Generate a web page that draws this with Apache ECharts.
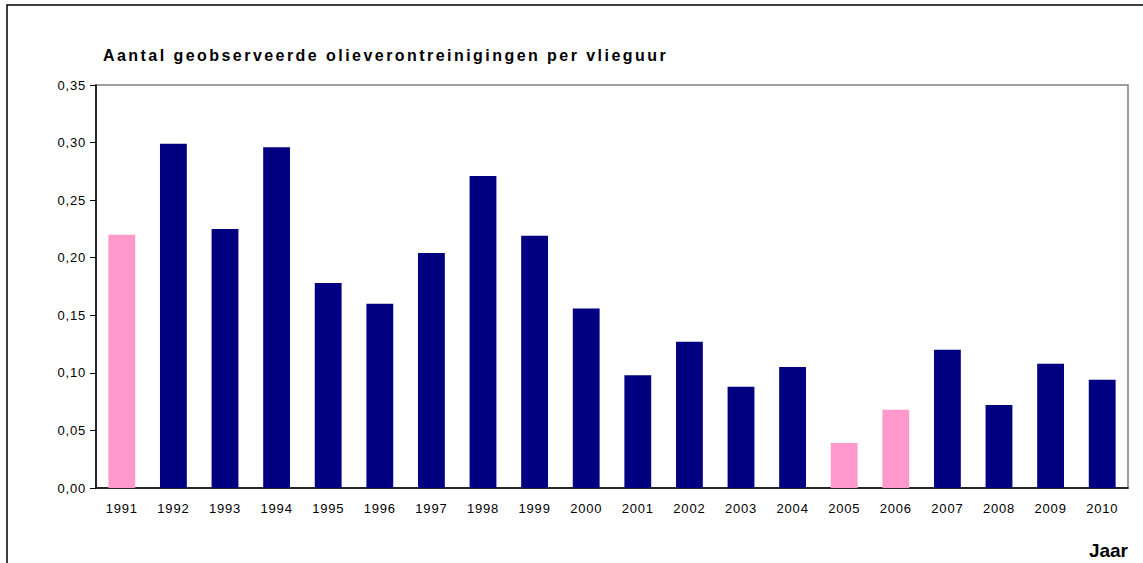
<!DOCTYPE html>
<html>
<head>
<meta charset="utf-8">
<script src="https://cdn.jsdelivr.net/npm/echarts@6/dist/echarts.min.js"></script>
<style>
  html, body { margin: 0; padding: 0; background: #fff; }
  #chart { width: 1143px; height: 563px; }
</style>
</head>
<body>
<div id="chart"></div>
<script>
// jaren en waarden
const years = ['1991', '1992', '1993', '1994', '1995', '1996', '1997', '1998', '1999', '2000',
  '2001', '2002', '2003', '2004', '2005', '2006', '2007', '2008', '2009', '2010']
const values = [0.220, 0.299, 0.225, 0.296, 0.178, 0.160, 0.204, 0.271, 0.219, 0.156,
  0.098, 0.127, 0.088, 0.105, 0.039, 0.068, 0.120, 0.072, 0.108, 0.094]
// jaren met een afwijkende (roze) kleur
const pinkYears = ['1991', '2005', '2006']

const navy = '#000080'
const pink = '#FF99CC'
const titleText = 'Aantal geobserveerde olieverontreinigingen per vlieguur'
const titleFont = 'bold 16px "Liberation Sans"'

var chartDom = document.getElementById('chart');
var myChart = echarts.init(chartDom, null, { renderer: 'svg' });
var option;

option = {
  animation: false,
  backgroundColor: '#fff',
  title: {
    text: titleText,
    left: 98,
    top: 42,
    textStyle: {
      fontFamily: 'Liberation Sans',
      fontSize: 16,
      fontWeight: 'bold',
      color: '#000'
    }
  },
  grid: {
    left: 96,
    top: 85,
    right: 15,
    bottom: 75,
    show: true,
    borderColor: '#808080',
    borderWidth: 1.5
  },
  xAxis: {
    type: 'category',
    data: years,
    axisLine: { lineStyle: { color: '#000', width: 1.5 } },
    axisTick: { length: 6, lineStyle: { color: '#000' } },
    axisLabel: {
      margin: 14,
      fontFamily: 'Liberation Sans',
      fontSize: 13,
      color: '#000'
    }
  },
  yAxis: {
    type: 'value',
    min: 0,
    max: 0.35,
    interval: 0.05,
    splitLine: { show: false },
    axisLine: { show: true, lineStyle: { color: '#000', width: 1.5 } },
    axisTick: { show: true, length: 6, lineStyle: { color: '#000' } },
    axisLabel: {
      margin: 10,
      fontFamily: 'Liberation Sans',
      fontSize: 13,
      color: '#000',
      formatter: v => v.toFixed(2).replace('.', ',')
    }
  },
  series: [
    {
      type: 'bar',
      barWidth: '52%',
      data: values.map((v, i) => ({
        value: v,
        itemStyle: { color: pinkYears.includes(years[i]) ? pink : navy }
      }))
    }
  ],
  graphic: [
    {
      type: 'rect',
      shape: { x: 7, y: 5, width: 1300, height: 700 },
      style: { fill: null, stroke: '#000', lineWidth: 1.5 },
      silent: true
    },
    {
      type: 'text',
      right: 15,
      top: 541,
      style: {
        text: 'Jaar',
        font: 'bold 19px "Liberation Sans"',
        fill: '#000'
      }
    }
  ]
};

option && myChart.setOption(option);

// Excel-achtige letterafstand: titel (breedte ca. 565px) en aslabels
const ctx = document.createElement('canvas').getContext('2d')
ctx.font = titleFont
const spacing = (565 - ctx.measureText(titleText).width) / titleText.length
document.querySelectorAll('#chart text').forEach(t => {
  if (t.textContent === titleText) t.setAttribute('letter-spacing', spacing.toFixed(2) + 'px')
  else if (t.textContent !== 'Jaar') t.setAttribute('letter-spacing', '0.8px')
})
</script>
</body>
</html>
